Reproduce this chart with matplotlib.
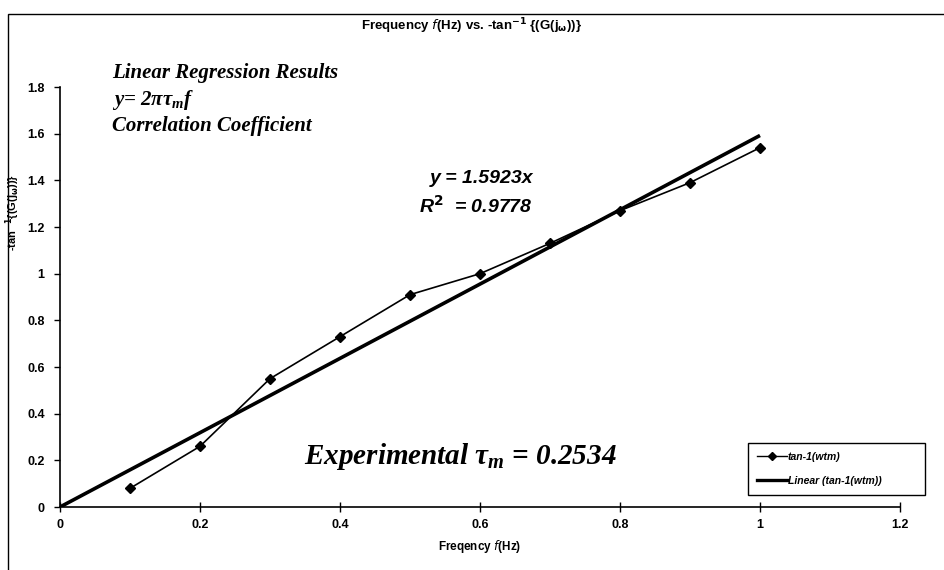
import matplotlib
matplotlib.use("Agg")
import matplotlib.pyplot as plt
from matplotlib.patches import Rectangle
from matplotlib.lines import Line2D

# data
freq = [0.1, 0.2, 0.3, 0.4, 0.5, 0.6, 0.7, 0.8, 0.9, 1.0]
phase = [0.08, 0.26, 0.55, 0.73, 0.91, 1.00, 1.13, 1.27, 1.39, 1.54]
slope = 1.5923
fit_x = [0.0, 1.0]
xticks = [0, 0.2, 0.4, 0.6, 0.8, 1, 1.2]
xticklabels = ["0", "0.2", "0.4", "0.6", "0.8", "1", "1.2"]
yticks = [0, 0.2, 0.4, 0.6, 0.8, 1, 1.2, 1.4, 1.6, 1.8]
yticklabels = ["0", "0.2", "0.4", "0.6", "0.8", "1", "1.2", "1.4", "1.6", "1.8"]

plt.rcParams['font.family'] = ['Liberation Sans', 'DejaVu Sans']
plt.rcParams['mathtext.fontset'] = 'custom'
plt.rcParams['mathtext.rm'] = 'Liberation Serif:bold:italic'
plt.rcParams['mathtext.it'] = 'Liberation Serif:bold:italic'
plt.rcParams['mathtext.bf'] = 'Liberation Serif:bold:italic'

fig = plt.figure(figsize=(9.44, 5.70), dpi=100)
ax = fig.add_axes([60 / 944, 1 - 507 / 570, 840 / 944, 420 / 570])

# outer chart frame
fig.patches.append(Rectangle((8 / 944, -0.05), 1.0, 1 - 14 / 570 + 0.05,
                             transform=fig.transFigure, fill=False,
                             edgecolor='black', lw=1.0))

fit_y = [slope * v for v in fit_x]
ax.plot(freq, phase, color='black', lw=1.2, marker='D', ms=5.5,
        markerfacecolor='black', label='tan-1(wtm)', zorder=3)
ax.plot(fit_x, fit_y, color='black', lw=2.6, solid_capstyle='butt',
        label='Linear (tan-1(wtm))', zorder=2)

ax.set_xlim(0, 1.2)
ax.set_ylim(0, 1.8)
ax.set_xticks(xticks)
ax.set_xticklabels(xticklabels)
ax.set_yticks(yticks)
ax.set_yticklabels(yticklabels)
for s in ['top', 'right']:
    ax.spines[s].set_visible(False)
ax.spines['left'].set_linewidth(1.2)
ax.spines['bottom'].set_linewidth(1.2)
ax.tick_params(axis='x', direction='inout', length=7, width=1, labelsize=9, pad=5)
ax.tick_params(axis='y', direction='out', length=4, width=1, labelsize=9, pad=7)
for lab in ax.get_xticklabels() + ax.get_yticklabels():
    lab.set_fontweight('bold')

ax.set_xlabel(r"Freqency $\mathit{f}$(Hz)", fontsize=8.5, fontweight='bold',
              labelpad=5, math_fontfamily='dejavusans')
ax.set_ylabel(r"-tan$^{\mathbf{-1}}${(G(j$_{\mathbf{\omega}}$))}", fontsize=8,
              fontweight='bold', math_fontfamily='dejavusans')
ax.yaxis.set_label_coords(-0.045, 0.70)

fig.text(0.5, 1 - 26 / 570,
         r"Frequency $\mathit{f}$(Hz) vs. -tan$^{\mathbf{-1}}$ {(G(j$_{\mathbf{\omega}}$))}",
         ha='center', va='center', fontsize=9.5, fontweight='bold',
         math_fontfamily='dejavusans')

# annotations
serif = dict(family='Liberation Serif', fontweight='bold', fontstyle='italic')
fig.text(112 / 944, 1 - 73 / 570, "Linear Regression Results", fontsize=15,
         va='center', **serif)
fig.text(112 / 944, 1 - 100 / 570, r"y= 2$\pi\tau_m f$", fontsize=15,
         va='center', **serif)
fig.text(112 / 944, 1 - 126 / 570, "Correlation Coefficient", fontsize=15,
         va='center', **serif)
fig.text(460 / 944, 1 - 457 / 570, r"Experimental $\tau_m$ = 0.2534", fontsize=21,
         ha='center', va='center', **serif)

fig.text(482 / 944, 1 - 178 / 570, "y = 1.5923x", fontsize=14, fontweight='bold',
         fontstyle='italic', ha='center', va='center')
fig.text(476 / 944, 1 - 206 / 570, r"R$^{\mathbf{2}}$  = 0.9778", fontsize=14,
         fontweight='bold', fontstyle='italic', ha='center', va='center',
         math_fontfamily='dejavusans')

handles = [Line2D([], [], color='black', lw=1.0, marker='D', ms=4.5),
           Line2D([], [], color='black', lw=2.4)]
leg = ax.legend(handles, ['tan-1(wtm)', 'Linear (tan-1(wtm))'],
                loc='lower left', bbox_to_anchor=(748 / 944, 1 - 495 / 570, 177 / 944, 72 / 570),
                bbox_transform=fig.transFigure, mode='expand', fancybox=False,
                framealpha=1, edgecolor='black', handlelength=2.8, handletextpad=0.1,
                borderpad=0.9, labelspacing=1.3, borderaxespad=0,
                prop={'size': 7.5, 'weight': 'bold', 'style': 'italic'})
leg.get_frame().set_linewidth(1.0)

fig.savefig("out.png", dpi=100)
